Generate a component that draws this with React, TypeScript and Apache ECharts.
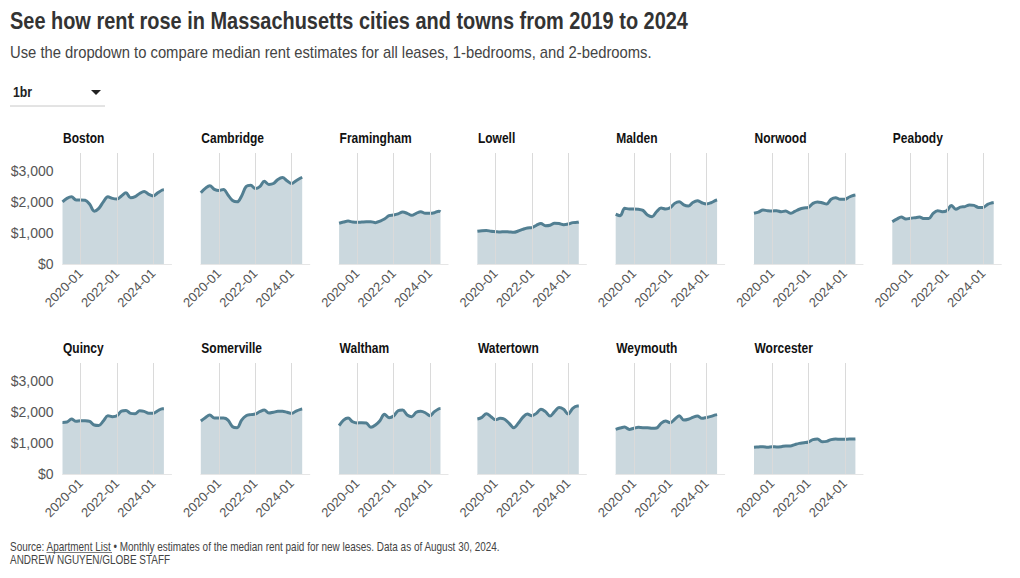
import React, { useEffect, useRef } from "react";
import * as echarts from "echarts";

const DATES = [
  "2019-01", "2019-04", "2019-07", "2019-10",
  "2020-01", "2020-04", "2020-07", "2020-10",
  "2021-01", "2021-04", "2021-07", "2021-10",
  "2022-01", "2022-04", "2022-07", "2022-10",
  "2023-01", "2023-04", "2023-07", "2023-10",
  "2024-01", "2024-04", "2024-07", "2024-08",
];

const CITIES = [
  "Boston", "Cambridge", "Framingham", "Lowell", "Malden", "Norwood", "Peabody",
  "Quincy", "Somerville", "Waltham", "Watertown", "Weymouth", "Worcester",
];

const boston = [2000, 2110, 2160, 2060, 2060, 2050, 1920, 1700, 1790, 2000, 2165, 2110, 2090, 2190, 2290, 2130, 2165, 2270, 2335, 2240, 2190, 2290, 2380, 2390];
const cambridge = [2290, 2430, 2520, 2400, 2360, 2400, 2220, 2040, 2000, 2190, 2490, 2530, 2430, 2490, 2660, 2560, 2590, 2720, 2780, 2680, 2590, 2680, 2765, 2790];
const framingham = [1310, 1350, 1380, 1350, 1340, 1350, 1360, 1360, 1330, 1380, 1445, 1555, 1575, 1610, 1670, 1630, 1565, 1630, 1680, 1630, 1630, 1650, 1700, 1680];
const lowell = [1050, 1070, 1080, 1050, 1040, 1030, 1040, 1030, 1020, 1060, 1115, 1160, 1170, 1245, 1300, 1230, 1245, 1310, 1300, 1265, 1285, 1330, 1340, 1350];
const malden = [1600, 1555, 1790, 1770, 1770, 1760, 1725, 1575, 1520, 1680, 1800, 1770, 1810, 1950, 2005, 1900, 1865, 1980, 2035, 1970, 1930, 1970, 2045, 2060];
const norwood = [1630, 1670, 1735, 1715, 1705, 1715, 1680, 1705, 1630, 1690, 1760, 1800, 1820, 1950, 1995, 1970, 1930, 2080, 2130, 2080, 2080, 2155, 2210, 2220];
const peabody = [1360, 1445, 1510, 1445, 1470, 1490, 1510, 1460, 1460, 1630, 1715, 1680, 1715, 1885, 1760, 1830, 1845, 1900, 1885, 1820, 1820, 1920, 1970, 1980];
const quincy = [1660, 1670, 1770, 1695, 1715, 1715, 1695, 1575, 1560, 1705, 1875, 1845, 1875, 2025, 2045, 1950, 1940, 2035, 2015, 1950, 1950, 2035, 2100, 2100];
const somerville = [1705, 1810, 1900, 1800, 1800, 1800, 1735, 1520, 1490, 1735, 1875, 1910, 1930, 2005, 2060, 1960, 1985, 2015, 2015, 1985, 1950, 2025, 2080, 2090];
const waltham = [1555, 1735, 1800, 1680, 1640, 1650, 1640, 1500, 1575, 1715, 1920, 1810, 1865, 2035, 2060, 1900, 1845, 1985, 2015, 1970, 1875, 2005, 2100, 2110];
const watertown = [1770, 1820, 1940, 1845, 1745, 1790, 1760, 1630, 1490, 1630, 1820, 1930, 1875, 1950, 2080, 2005, 1865, 2005, 2135, 2080, 1930, 2110, 2185, 2185];
const weymouth = [1435, 1480, 1510, 1435, 1470, 1500, 1490, 1490, 1470, 1480, 1630, 1705, 1650, 1760, 1875, 1735, 1760, 1820, 1865, 1790, 1820, 1855, 1900, 1910];
const worcester = [860, 870, 880, 860, 880, 870, 880, 900, 900, 945, 985, 1005, 1030, 1105, 1125, 1040, 1050, 1105, 1125, 1115, 1115, 1125, 1125, 1125];

const VALUES = [boston, cambridge, framingham, lowell, malden, norwood, peabody, quincy, somerville, waltham, watertown, weymouth, worcester];

const X_TICKS = ["2020-01", "2022-01", "2024-01"];
const Y_TICKS = [0, 1000, 2000, 3000];
const X_MIN = "2019-01";
const X_MAX = "2025-01";
const Y_MAX = 3570;

const FONT = '"Liberation Sans", Arial, sans-serif';
const LINE = "#527f92";

const toTs = (ym: string) => {
  const [y, m] = ym.split("-").map(Number);
  return Date.UTC(y, m - 1, 1);
};
const fmtDate = (v: number) => {
  const d = new Date(v);
  return `${d.getUTCFullYear()}-${String(d.getUTCMonth() + 1).padStart(2, "0")}`;
};
const fmtMoney = (v: number) => "$" + Math.round(v).toLocaleString("en-US");

const txt = (text: string, x: number, y: number, size: number, sx: number, bold: boolean, fill: string) => ({
  type: "text",
  x,
  y,
  scaleX: sx,
  style: {
    text,
    fontFamily: FONT,
    fontWeight: bold ? "bold" : "normal",
    fontSize: size,
    fill,
    align: "left",
    verticalAlign: "middle",
  },
});

export default function App() {
  const ref = useRef<HTMLDivElement>(null);
  useEffect(() => {
    if (!ref.current) return;
    const chart = echarts.init(ref.current, null, { renderer: "svg" });
    const COLS = 7;
    const LEFT0 = 62.5;
    const STEP = 138.3;
    const W = 109;
    const TOP0 = 153;
    const ROW = 210;
    const H = 111;

    const grids: any[] = [];
    const xAxes: any[] = [];
    const yAxes: any[] = [];
    const series: any[] = [];
    const graphics: any[] = [];

    CITIES.forEach((name, i) => {
      const c = i % COLS;
      const r = Math.floor(i / COLS);
      const left = LEFT0 + c * STEP;
      const top = TOP0 + r * ROW;
      grids.push({ left, top, width: W, height: H, containLabel: false });
      xAxes.push({
        type: "value",
        gridIndex: i,
        min: toTs(X_MIN),
        max: toTs(X_MAX),
        axisLine: { show: true, lineStyle: { color: "#e6e6e6", width: 1 } },
        axisTick: { show: false },
        splitLine: { show: false },
        axisLabel: {
          customValues: X_TICKS.map(toTs),
          formatter: (v: number) => fmtDate(v),
          rotate: 45,
          margin: 7,
          color: "#555",
          fontSize: 13,
          fontFamily: FONT,
          hideOverlap: false,
        },
      });
      yAxes.push({
        type: "value",
        gridIndex: i,
        min: 0,
        max: Y_MAX,
        axisLine: { show: false },
        axisTick: { show: false },
        splitLine: { show: false },
        axisLabel: {
          show: c === 0,
          customValues: Y_TICKS,
          formatter: (v: number) => fmtMoney(v),
          color: "#555",
          fontSize: 14,
          fontFamily: FONT,
          margin: 9,
        },
      });
      series.push({
        type: "line",
        name,
        xAxisIndex: i,
        yAxisIndex: i,
        data: DATES.map((d, k) => [toTs(d), VALUES[i][k]]),
        smooth: 0.35,
        showSymbol: false,
        symbol: "none",
        lineStyle: { color: LINE, width: 3 },
        itemStyle: { color: LINE },
        areaStyle: { color: LINE, opacity: 0.3 },
        markLine: {
          silent: true,
          symbol: ["none", "none"],
          label: { show: false },
          lineStyle: { color: "#dadada", width: 1, type: "solid" },
          data: X_TICKS.map((t) => ({ xAxis: toTs(t) })),
        },
      });
      graphics.push(txt(name, left + 0.5, 138 + r * ROW, 15, 0.8, true, "#111"));
    });

    graphics.push(
      txt("See how rent rose in Massachusetts cities and towns from 2019 to 2024", 10, 22, 23, 0.867, true, "#333"),
      txt("Use the dropdown to compare median rent estimates for all leases, 1-bedrooms, and 2-bedrooms.", 10, 52, 17, 0.87, false, "#444"),
      txt("1br", 13, 92, 15, 0.82, true, "#222"),
      {
        type: "polygon",
        shape: { points: [[91, 90], [101, 90], [96, 95]] },
        style: { fill: "#222" },
      },
      {
        type: "line",
        shape: { x1: 10, y1: 106, x2: 105, y2: 106 },
        style: { stroke: "#c8c8c8", lineWidth: 1 },
      },
      txt("Source: Apartment List \u2022 Monthly estimates of the median rent paid for new leases. Data as of August 30, 2024.", 10, 547, 12, 0.83, false, "#444"),
      {
        type: "line",
        shape: { x1: 46.5, y1: 552.5, x2: 112, y2: 552.5 },
        style: { stroke: "#444", lineWidth: 0.7 },
      },
      txt("ANDREW NGUYEN/GLOBE STAFF", 10, 560, 12, 0.83, false, "#444")
    );

    chart.setOption({
      animation: false,
      backgroundColor: "#fff",
      grid: grids,
      xAxis: xAxes,
      yAxis: yAxes,
      series,
      graphic: graphics,
    });
    return () => chart.dispose();
  }, []);
  return (
    <div
      ref={ref}
      style={{ position: "absolute", left: 0, top: 0, width: 1020, height: 578 }}
    />
  );
}
